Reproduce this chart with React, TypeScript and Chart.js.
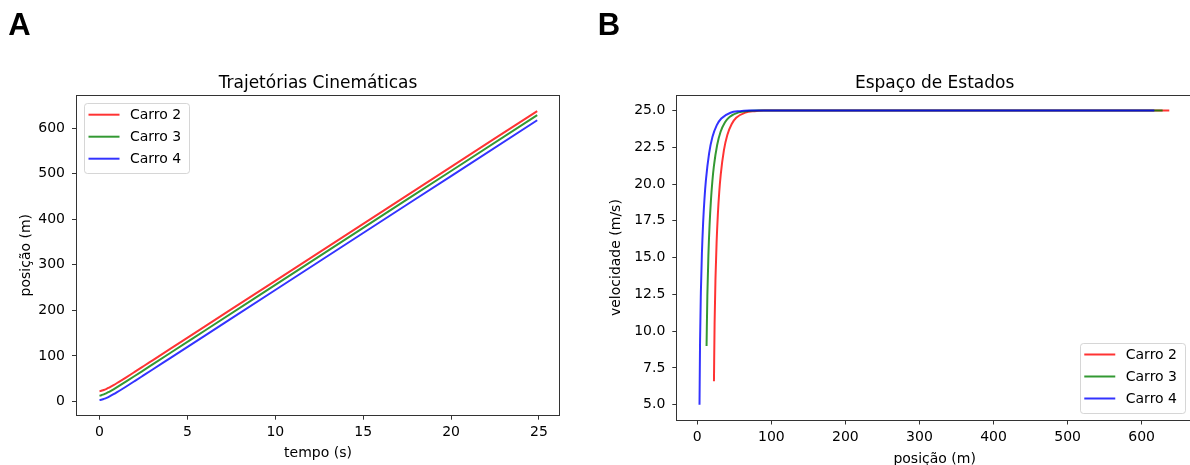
import React, { useEffect, useRef } from "react";
import { Chart, registerables } from "chart.js";

Chart.register(...registerables);

// ---------- data ----------
const CARS = ["Carro 2", "Carro 3", "Carro 4"];
const COLORS = ["rgba(255,0,0,0.8)", "rgba(0,128,0,0.8)", "rgba(0,0,255,0.8)"];

const TIME = [0, 0.1, 0.2, 0.3, 0.4, 0.5, 0.6, 0.8, 1.0, 1.25, 1.5, 2.0, 2.5, 3, 4, 6, 10, 15, 20, 24.9];

const POS_2 = [22.5, 23.36, 24.58, 26.07, 27.77, 29.64, 31.65, 35.96, 40.53, 46.47, 52.54, 64.9, 77.35, 89.84, 114.83, 164.83, 264.83, 389.83, 514.83, 637.33];
const POS_3 = [12.5, 13.58, 14.96, 16.58, 18.39, 20.34, 22.41, 26.81, 31.44, 37.42, 43.52, 55.89, 68.35, 80.84, 105.83, 155.83, 255.83, 380.83, 505.83, 628.33];
const POS_4 = [3.0, 3.72, 4.82, 6.22, 7.86, 9.68, 11.64, 15.89, 20.42, 26.33, 32.39, 44.74, 57.19, 69.67, 94.67, 144.67, 244.67, 369.67, 494.67, 617.17];

const VEL_2 = [6.6, 10.53, 13.61, 16.04, 17.95, 19.46, 20.64, 22.3, 23.33, 24.08, 24.5, 24.85, 24.95, 24.99, 25, 25, 25, 25, 25, 25];
const VEL_3 = [9.0, 12.41, 15.1, 17.21, 18.87, 20.18, 21.21, 22.65, 23.55, 24.2, 24.56, 24.87, 24.96, 24.99, 25, 25, 25, 25, 25, 25];
const VEL_4 = [5.0, 9.27, 12.62, 15.26, 17.34, 18.98, 20.26, 22.07, 23.19, 24.0, 24.45, 24.84, 24.95, 24.99, 25, 25, 25, 25, 25, 25];

const TIME_TICKS = [0, 5, 10, 15, 20, 25];
const POS_TICKS = [0, 100, 200, 300, 400, 500, 600];
const VEL_TICKS = [5, 7.5, 10, 12.5, 15, 17.5, 20, 22.5, 25];

const TITLE_A = "Trajetórias Cinemáticas";
const TITLE_B = "Espaço de Estados";
const LABEL_TIME = "tempo (s)";
const LABEL_POS = "posição (m)";
const LABEL_VEL = "velocidade (m/s)";

// ---------- styling ----------
const FAMILY = '"DejaVu Sans", sans-serif';
const TEXT = "#000";

const framePlugin = {
  id: "frame",
  afterDatasetsDraw(chart: any) {
    const { ctx, chartArea: a } = chart;
    ctx.save();
    ctx.strokeStyle = "#333";
    ctx.lineWidth = 1;
    const l = Math.round(a.left) - 0.5;
    const t = Math.round(a.top) - 0.5;
    const r = Math.round(a.right) + 0.5;
    const b = Math.round(a.bottom) + 0.5;
    ctx.strokeRect(l, t, r - l, b - t);
    ctx.restore();
  },
};

const boxLegend = {
  id: "boxLegend",
  afterDatasetsDraw(chart: any, _args: any, opts: any) {
    const { ctx, chartArea: a } = chart;
    const items = chart.data.datasets;
    ctx.save();
    ctx.font = `14px ${FAMILY}`;
    const textW = Math.max(...items.map((d: any) => ctx.measureText(d.label).width));
    const w = 4.5 + 31 + 10.5 + textW + 8;
    const h = 69.5;
    const x = opts.corner === "ul" ? a.left + 7 : a.right - 7 - w;
    const y = opts.corner === "ul" ? a.top + 7.5 : a.bottom - 7 - h;
    ctx.beginPath();
    (ctx as any).roundRect(Math.round(x) + 0.5, Math.round(y) + 0.5, Math.round(w), Math.round(h), 3);
    ctx.fillStyle = "rgba(255,255,255,0.8)";
    ctx.fill();
    ctx.strokeStyle = "rgba(204,204,204,0.8)";
    ctx.lineWidth = 1;
    ctx.stroke();
    items.forEach((d: any, i: number) => {
      const ry = y + 11.5 + i * 22;
      ctx.strokeStyle = d.borderColor;
      ctx.lineWidth = 2;
      ctx.beginPath();
      ctx.moveTo(x + 4.5, ry);
      ctx.lineTo(x + 35.5, ry);
      ctx.stroke();
      ctx.fillStyle = TEXT;
      ctx.textBaseline = "middle";
      ctx.textAlign = "left";
      ctx.fillText(d.label, x + 46, ry + 0.5);
    });
    ctx.restore();
  },
};

type Panel = {
  title: string;
  xs: number[][];
  ys: number[][];
  xMin: number; xMax: number; yMin: number; yMax: number;
  xTicks: number[]; yTicks: number[];
  xFmt: (v: number) => string; yFmt: (v: number) => string;
  xLabel: string; yLabel: string;
  xHeight: number; yWidth: number; padRight: number;
  xTitlePad: number; yTitlePad: number;
  corner: string;
};

function makeConfig(p: Panel): any {
  const tickFont = { family: FAMILY, size: 14 };
  return {
    type: "scatter",
    data: {
      datasets: CARS.map((label, i) => ({
        label,
        data: p.xs[i].map((x, j) => ({ x, y: p.ys[i][j] })),
        showLine: true,
        borderColor: COLORS[i],
        backgroundColor: COLORS[i],
        borderWidth: 2,
        pointRadius: 0,
        pointHoverRadius: 0,
        cubicInterpolationMode: "monotone",
        order: 2 - i,
      })),
    },
    options: {
      responsive: false,
      animation: false,
      devicePixelRatio: 1,
      events: [],
      layout: { padding: { left: 0, right: p.padRight, top: 0, bottom: 0 } },
      plugins: {
        legend: { display: false },
        tooltip: { enabled: false },
        title: {
          display: true,
          text: p.title,
          fullSize: false,
          color: TEXT,
          font: { family: FAMILY, size: 17, weight: "normal" },
          padding: { top: 73.5, bottom: 1.8 },
        },
        boxLegend: { corner: p.corner },
      },
      scales: {
        x: {
          type: "linear",
          min: p.xMin,
          max: p.xMax,
          afterBuildTicks: (s: any) => { s.ticks = p.xTicks.map((v) => ({ value: v })); },
          afterFit: (s: any) => { s.height = p.xHeight; },
          ticks: { font: tickFont, color: TEXT, padding: 4, maxRotation: 0, autoSkip: false, callback: (v: any) => p.xFmt(Number(v)) },
          grid: { drawOnChartArea: false, drawTicks: true, tickLength: 5, tickColor: "#333" },
          border: { display: false },
          title: { display: true, text: p.xLabel, color: TEXT, font: tickFont, padding: { top: 0, bottom: p.xTitlePad } },
        },
        y: {
          type: "linear",
          min: p.yMin,
          max: p.yMax,
          afterBuildTicks: (s: any) => { s.ticks = p.yTicks.map((v) => ({ value: v })); },
          afterFit: (s: any) => { s.width = p.yWidth; },
          ticks: { font: tickFont, color: TEXT, padding: 7, autoSkip: false, callback: (v: any) => p.yFmt(Number(v)) },
          grid: { drawOnChartArea: false, drawTicks: true, tickLength: 5, tickColor: "#333" },
          border: { display: false },
          title: { display: true, text: p.yLabel, color: TEXT, font: tickFont, padding: { top: p.yTitlePad, bottom: 0 } },
        },
      },
    },
    plugins: [framePlugin, boxLegend],
  };
}

function ChartCanvas({ cfg, width, height }: { cfg: Panel; width: number; height: number }) {
  const ref = useRef<HTMLCanvasElement | null>(null);
  useEffect(() => {
    if (!ref.current) return;
    const chart = new Chart(ref.current, makeConfig(cfg));
    return () => chart.destroy();
  }, []);
  return <canvas ref={ref} width={width} height={height} style={{ display: "block", width, height }} />;
}

const panelA: Panel = {
  title: TITLE_A,
  xs: [TIME, TIME, TIME],
  ys: [POS_2, POS_3, POS_4],
  xMin: -1.28, xMax: 26.14, yMin: -29, yMax: 671,
  xTicks: TIME_TICKS, yTicks: POS_TICKS,
  xFmt: (v) => String(v), yFmt: (v) => String(v),
  xLabel: LABEL_TIME, yLabel: LABEL_POS,
  xHeight: 480 - 414.7, yWidth: 77, padRight: 31,
  xTitlePad: 18.6, yTitlePad: 17.6,
  corner: "ul",
};

const panelB: Panel = {
  title: TITLE_B,
  xs: [POS_2, POS_3, POS_4],
  ys: [VEL_2, VEL_3, VEL_4],
  xMin: -27, xMax: 668, yMin: 4, yMax: 26,
  xTicks: POS_TICKS, yTicks: VEL_TICKS,
  xFmt: (v) => String(v), yFmt: (v) => v.toFixed(1),
  xLabel: LABEL_POS, yLabel: LABEL_VEL,
  xHeight: 480 - 419.5, yWidth: 87.3, padRight: 18,
  xTitlePad: 12.1, yTitlePad: 18.3,
  corner: "lr",
};

const letterStyle: React.CSSProperties = {
  position: "absolute",
  fontFamily: '"Liberation Sans", Arial, sans-serif',
  fontWeight: "bold",
  fontSize: 31,
  lineHeight: "31px",
  color: "#000",
};

export default function App() {
  return (
    <div style={{ position: "fixed", left: 0, top: 0, width: 1190, height: 465, overflow: "hidden", background: "#fff" }}>
      <div style={{ position: "absolute", left: 0, top: 0 }}>
        <ChartCanvas cfg={panelA} width={590} height={480} />
      </div>
      <div style={{ position: "absolute", left: 590, top: 0 }}>
        <ChartCanvas cfg={panelB} width={620} height={480} />
      </div>
      <div style={{ ...letterStyle, left: 8.3, top: 9.3 }}>A</div>
      <div style={{ ...letterStyle, left: 597.7, top: 9.3 }}>B</div>
    </div>
  );
}
